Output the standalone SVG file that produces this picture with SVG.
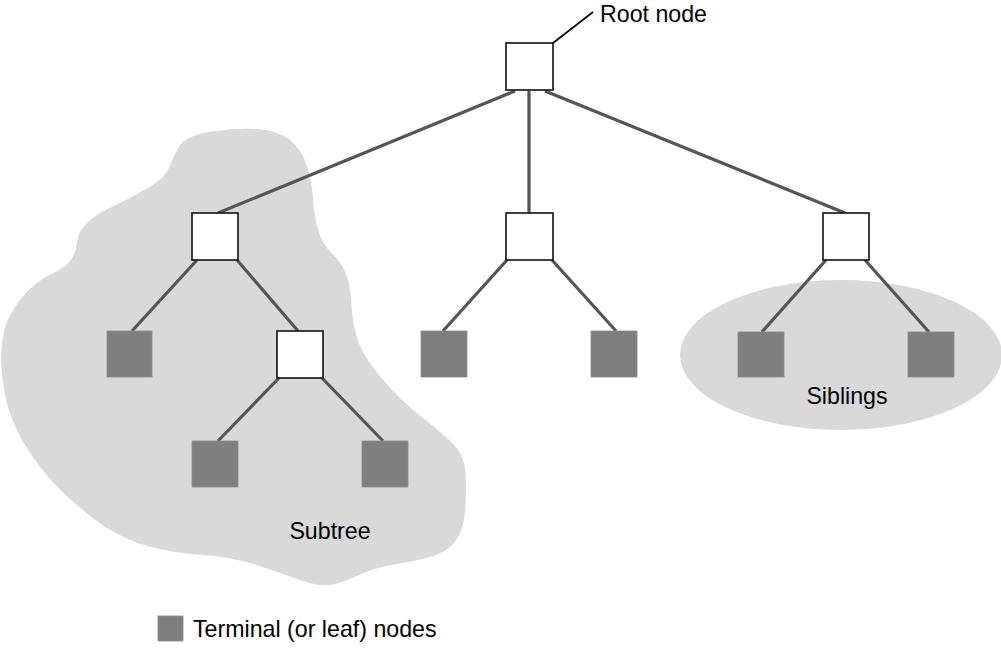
<svg xmlns="http://www.w3.org/2000/svg" width="1001" height="662" viewBox="0 0 1001 662">
<style>
.region{fill:#d9d9d9;stroke:none}
.edge{stroke:#555555;stroke-width:3.2;fill:none;stroke-linecap:butt}
.lead{stroke:#000;stroke-width:1.6;fill:none}
.inner{fill:#ffffff;stroke:#111111;stroke-width:1.6}
.leaf{fill:#7f7f7f;stroke:#8a8a8a;stroke-width:0.8}
.lbl{font-family:"Liberation Sans",Arial,sans-serif;font-size:23.2px;fill:#000}
</style>
<rect width="1001" height="662" fill="#ffffff"/>
<g id="regions">
<path id="subtree-region" class="region" d="M169.5,166.5 Q173,157 179,146.5 Q185,136 209,132 Q233,128 255.5,129 Q278,130 290,140 Q302,150 307,166 Q312,182 313,198.5 Q314,215 318,229.5 Q322,244 332.5,254 Q343,264 347,277 Q351,290 351.5,305 Q352,320 357,337.5 Q362,355 381,377.5 Q400,400 423.5,418.5 Q447,437 455.5,446.5 Q464,456 465.5,473 Q467,490 465,511.5 Q463,533 454,543 Q445,553 430,557 Q415,561 394,564.5 Q373,568 359,575 Q345,582 332.5,584.5 Q320,587 301.5,580.5 Q283,574 258,565.5 Q233,557 203,555 Q173,553 149,546.5 Q125,540 104,526 Q83,512 61.5,491 Q40,470 25,445 Q10,420 5,395 Q0,370 1.5,348.5 Q3,327 11.5,312.5 Q20,298 31,288 Q42,278 53.5,273 Q65,268 70.5,260.5 Q76,253 77,242.5 Q78,232 86.5,223.5 Q95,215 108.5,208.5 Q122,202 133.5,196 Q145,190 155.5,183 Q166,176 169.5,166.5 Z"/>
<ellipse id="siblings-region" class="region" cx="841" cy="355" rx="161" ry="75"/>
</g>
<g id="connectors">
<line class="edge" x1="515" y1="91" x2="218" y2="213"/>
<line class="edge" x1="529" y1="91" x2="529" y2="213"/>
<line class="edge" x1="545" y1="91" x2="845" y2="213"/>
<line class="edge" x1="197" y1="260" x2="132" y2="331"/>
<line class="edge" x1="237" y1="260" x2="298" y2="331"/>
<line class="edge" x1="279" y1="378" x2="218" y2="441"/>
<line class="edge" x1="322" y1="378" x2="383" y2="441"/>
<line class="edge" x1="507" y1="260" x2="443" y2="331"/>
<line class="edge" x1="552" y1="260" x2="616" y2="331"/>
<line class="edge" x1="826" y1="260" x2="762" y2="332"/>
<line class="edge" x1="865" y1="260" x2="929" y2="332"/>
<line class="lead" x1="553" y1="43" x2="593" y2="12"/>
</g>
<g id="root"><rect class="inner" x="506" y="43" width="47" height="47"/></g>
<g id="n-left"><rect class="inner" x="192" y="213" width="46" height="47"/></g>
<g id="n-mid"><rect class="inner" x="506" y="213" width="47" height="47"/></g>
<g id="n-right"><rect class="inner" x="823" y="213" width="46" height="47"/></g>
<g id="leaf-1"><rect class="leaf" x="107" y="331" width="45" height="46"/></g>
<g id="n-left-inner"><rect class="inner" x="277" y="331" width="46" height="47"/></g>
<g id="leaf-2"><rect class="leaf" x="192" y="441" width="46" height="46"/></g>
<g id="leaf-3"><rect class="leaf" x="362" y="441" width="46" height="46"/></g>
<g id="leaf-4"><rect class="leaf" x="421" y="331" width="46" height="46"/></g>
<g id="leaf-5"><rect class="leaf" x="591" y="331" width="46" height="46"/></g>
<g id="leaf-6"><rect class="leaf" x="738" y="332" width="46" height="45"/></g>
<g id="leaf-7"><rect class="leaf" x="908" y="332" width="46" height="45"/></g>
<g id="labels">
<text class="lbl" x="600" y="22">Root node</text>
<text class="lbl" x="330" y="539" text-anchor="middle">Subtree</text>
<text class="lbl" x="847" y="404" text-anchor="middle">Siblings</text>
</g>
<g id="legend">
<rect class="leaf" x="158" y="616" width="25" height="25"/>
<text class="lbl" x="193" y="637">Terminal (or leaf) nodes</text>
</g>
</svg>
